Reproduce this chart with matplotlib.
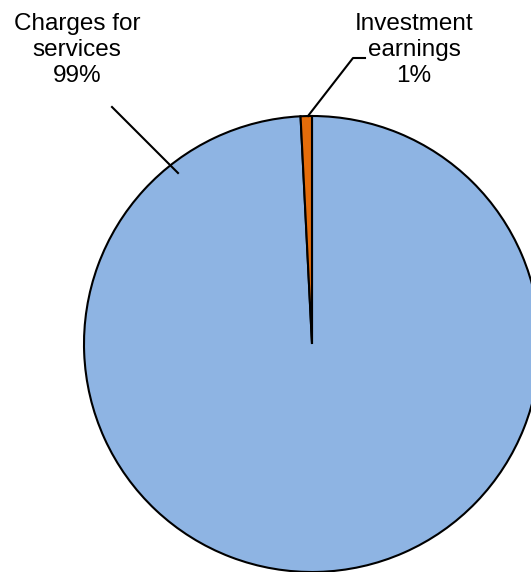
import matplotlib
matplotlib.use("Agg")
import matplotlib.pyplot as plt

labels = ["Charges for\nservices\n99%", "Investment\nearnings\n1%"]
shares = [99.2, 0.8]
colors = ["#8EB4E3", "#E46C0A"]

W, H = 531, 572
fig = plt.figure(figsize=(W / 100, H / 100), dpi=100)
ax = fig.add_axes([0, 0, 1, 1])

cx, cy, r = 312, 228, 228
ax.pie(shares, colors=colors, startangle=90, counterclock=False,
       center=(cx, cy), radius=r, frame=True,
       wedgeprops=dict(edgecolor="black", linewidth=1.5))
ax.set_xlim(0, W)
ax.set_ylim(0, H)
ax.set_aspect("equal")
ax.axis("off")

font = dict(family=["Liberation Sans", "DejaVu Sans"], fontsize=17.5,
            ha="center", va="center", linespacing=1.22)
ax.text(77, 522, labels[0], **font)
ax.text(414, 522, labels[1], **font)

# leader lines
ax.plot([112, 178], [465, 399], color="black", lw=1.5)
ax.plot([308, 353, 365], [456, 514, 514], color="black", lw=1.5)

fig.savefig("out.png", dpi=100)
